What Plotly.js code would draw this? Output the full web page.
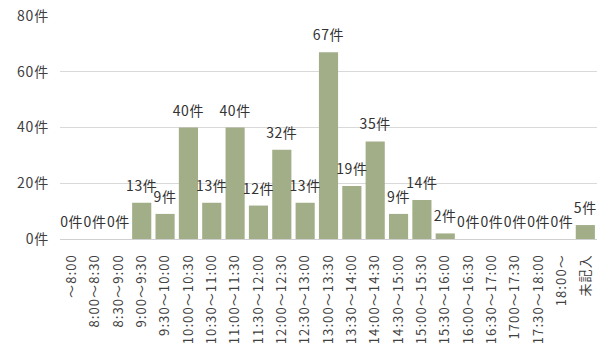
<!DOCTYPE html>
<html><head><meta charset="utf-8">
<script src="https://cdn.plot.ly/plotly-3.0.1.min.js"></script>
<style>html,body{margin:0;padding:0;background:#fff}#c{width:599px;height:346px}
.xtick text{letter-spacing:1.1px}
.textpoint text{letter-spacing:0.6px}
.ytick text{letter-spacing:0.8px}
</style>
</head><body><div id="c"></div>
<script>
const categories = ["～8:00","8:00～8:30","8:30～9:00","9:00～9:30","9:30～10:00","10:00～10:30","10:30～11:00","11:00～11:30","11:30～12:00","12:00～12:30","12:30～13:00","13:00～13:30","13:30～14:00","14:00～14:30","14:30～15:00","15:00～15:30","15:30～16:00","16:00～16:30","16:30～17:00","1700～17:30","17:30～18:00","18:00～","未記入"];
const counts = [0,0,0,13,9,40,13,40,12,32,13,67,19,35,9,14,2,0,0,0,0,0,5];
const yTicks = [0,20,40,60,80];
const unit = "件";

const font = "'Noto Sans CJK JP', 'Noto Sans', sans-serif";
Plotly.newPlot("c", [{
  type: "bar",
  x: categories,
  y: counts,
  marker: {color: "#a2ae88"},
  hoverinfo: "none"
}, {
  type: "scatter",
  mode: "markers+text",
  x: categories,
  y: counts,
  marker: {size: 12, opacity: 0, color: "#fff"},
  text: counts.map(v => v + unit),
  textposition: "top center",
  textfont: {family: font, size: 14, color: "#333"},
  cliponaxis: false,
  hoverinfo: "none"
}], {
  width: 599, height: 346,
  margin: {l: 60, r: 2, t: 16, b: 107},
  paper_bgcolor: "#fff", plot_bgcolor: "#fff",
  bargap: 0.18,
  showlegend: false,
  font: {family: font, size: 12, color: "#404040"},
  xaxis: {
    type: "category",
    range: [-0.5, categories.length - 0.5],
    tickangle: -90,
    automargin: false,
    showline: true, linecolor: "#d0d0d0", linewidth: 1,
    ticks: "",
    ticklabelstandoff: 9,
    tickfont: {family: font, size: 13, color: "#404040"},
    showgrid: false
  },
  yaxis: {
    range: [0, 80],
    tickmode: "array",
    tickvals: yTicks,
    ticktext: yTicks.map(v => v + unit),
    automargin: false,
    showgrid: true, gridcolor: "#d9d9d9", gridwidth: 1,
    zeroline: false,
    showline: false,
    ticks: "",
    ticklabelstandoff: 10,
    tickfont: {family: font, size: 14, color: "#404040"}
  }
}, {staticPlot: true});
</script></body></html>
